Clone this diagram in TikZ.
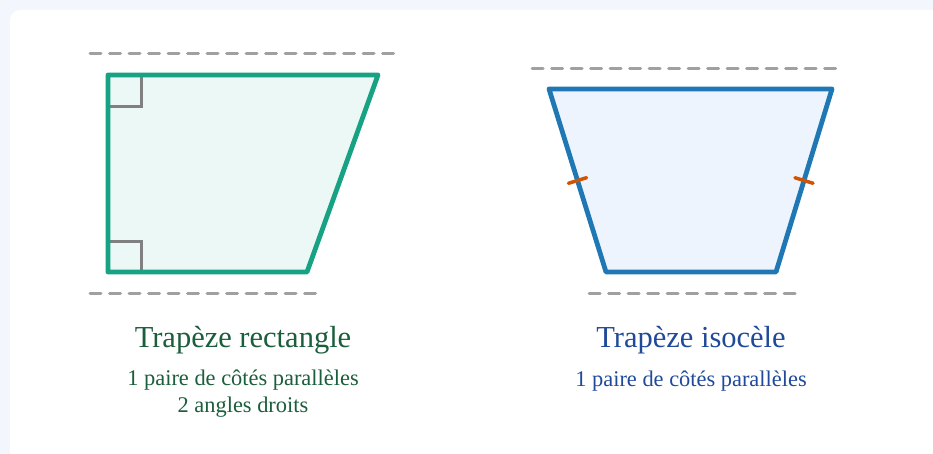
\documentclass[tikz,border=0pt]{standalone}
\usepackage{fontspec}
\setmainfont{Liberation Serif}
\usetikzlibrary{calc}

\definecolor{pagebg}{HTML}{F4F6FD}
\definecolor{rectline}{HTML}{17A283}
\definecolor{rectfill}{HTML}{ECF8F5}
\definecolor{rectText}{HTML}{1B5E3B}
\definecolor{isoline}{HTML}{1F78B4}
\definecolor{isofill}{HTML}{EDF4FD}
\definecolor{isoText}{HTML}{1F4A9A}
\definecolor{tickcol}{HTML}{D35400}
\definecolor{guidecol}{HTML}{A0A0A0}
\definecolor{markcol}{HTML}{808080}

\tikzset{
  guide/.style={guidecol, line width=3pt, line cap=round, dash pattern=on 11pt off 8.5pt},
  rightmark/.style={markcol, line width=3pt},
  eqtick/.style={tickcol, line width=3.5pt, line cap=round},
  title/.style={font=\fontsize{30.5}{34}\selectfont},
  sub/.style={font=\fontsize{22.4}{27}\selectfont, align=center},
}

\begin{document}
\begin{tikzpicture}[x=1pt, y=-1pt]
  \useasboundingbox (0, 0) rectangle (933, 454);
  \clip (0, 0) rectangle (933, 454);
  \fill[pagebg] (0, 0) rectangle (933, 454);
  \fill[white, rounded corners=10pt] (10, 10) rectangle (960, 480);

  %% trapeze rectangle
  \coordinate (A) at (108, 272);
  \coordinate (B) at (307, 272);
  \coordinate (C) at (378, 75);
  \coordinate (D) at (108, 75);
  \draw[guide] (90, 54) -- (396, 54);
  \draw[guide] (90, 293) -- (322, 293);
  \fill[rectfill] (A) -- (B) -- (C) -- (D) -- cycle;
  \draw[rightmark] (108, 107) -- (141, 107) -- (141, 75);
  \draw[rightmark] (108, 241) -- (141, 241) -- (141, 272);
  \draw[rectline, line width=4.8pt, line join=round] (A) -- (B) -- (C) -- (D) -- cycle;

  %% trapeze isocele
  \coordinate (E) at (606, 272);
  \coordinate (F) at (776, 272);
  \coordinate (G) at (832, 89);
  \coordinate (H) at (549, 89);
  \draw[guide] (532, 69) -- (842, 69);
  \draw[guide] (589, 293) -- (795, 293);
  \draw[isoline, fill=isofill, line width=4.8pt, line join=round] (E) -- (F) -- (G) -- (H) -- cycle;
  \coordinate (M1) at ($(H)!0.5!(E)$);
  \coordinate (M2) at ($(G)!0.5!(F)$);
  \draw[eqtick] ($(M1)!9.5pt!90:(E)$) -- ($(M1)!9.5pt!-90:(E)$);
  \draw[eqtick] ($(M2)!9.5pt!90:(F)$) -- ($(M2)!9.5pt!-90:(F)$);

  %% texts
  \node[title, text=rectText] (t1) at (243, 340) {Trapèze rectangle};
  \node[sub, text=rectText] (s1) at (243, 394) {1 paire de côtés parallèles\\2 angles droits};
  \node[title, text=isoText] (t2) at (691, 340) {Trapèze isocèle};
  \node[sub, text=isoText] (s2) at (691, 381) {1 paire de côtés parallèles};

\end{tikzpicture}
\end{document}
